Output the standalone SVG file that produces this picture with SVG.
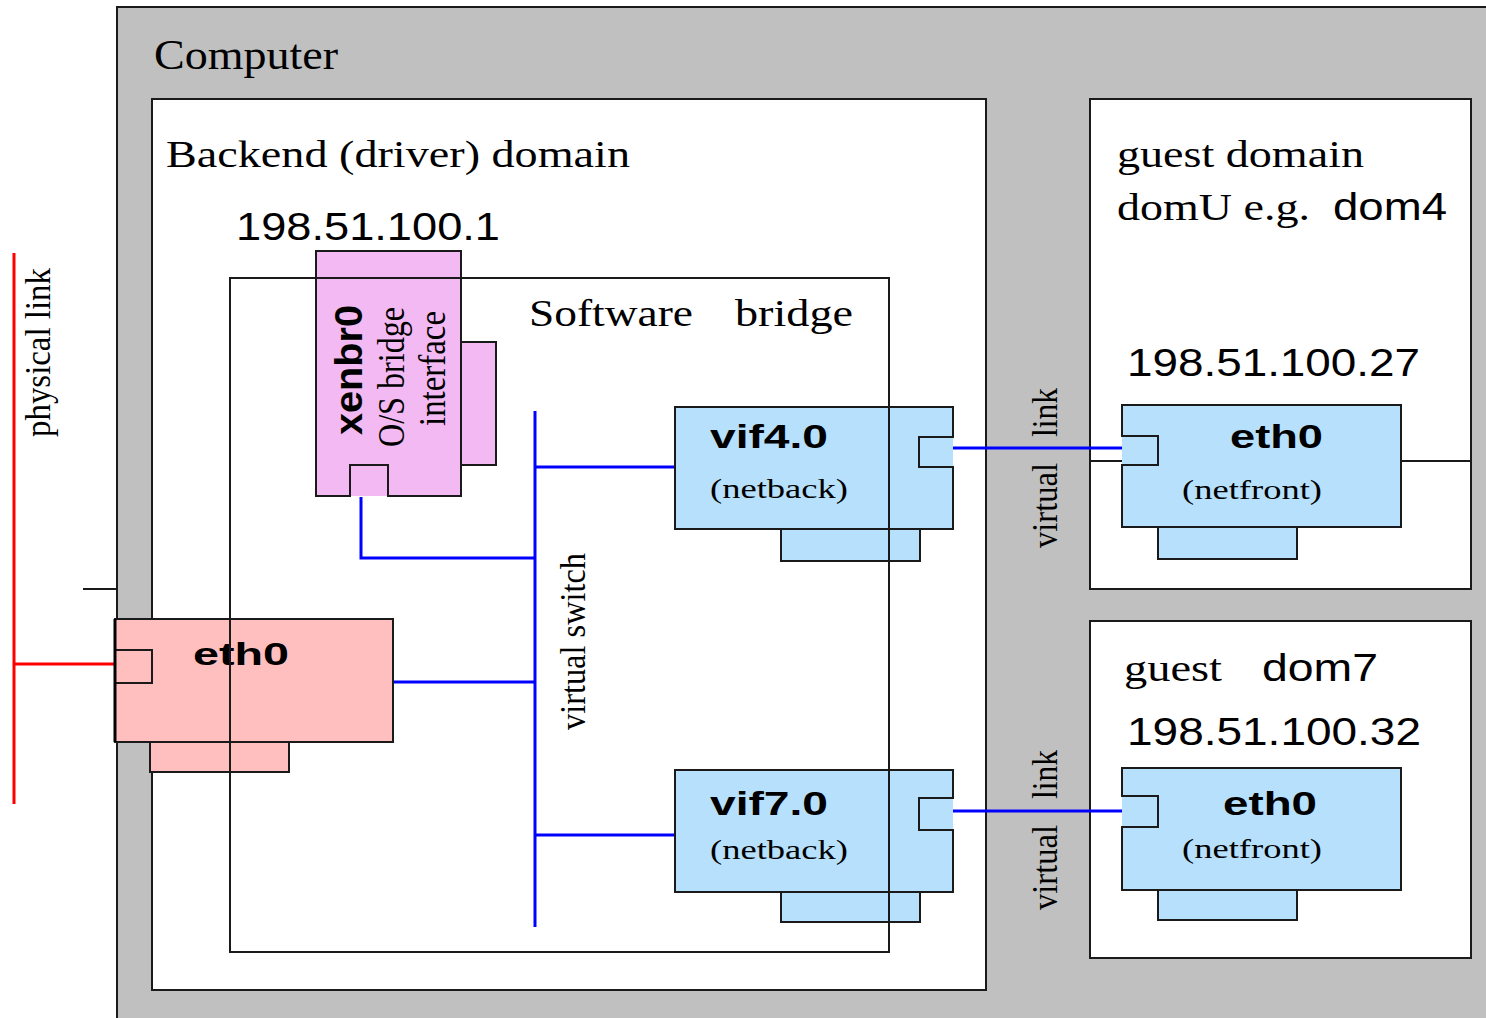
<svg xmlns="http://www.w3.org/2000/svg" width="1486" height="1018" viewBox="0 0 1486 1018">
<style>
.box{stroke:#1a1a1a;stroke-width:2}
.gray{fill:#c0c0c0}
.white{fill:#ffffff}
.pink{fill:#f2b9f2}
.rose{fill:#ffbfbf}
.blue{fill:#b6e0fc}
.nf{stroke:none}
.ol{fill:none;stroke:#1a1a1a;stroke-width:2}
.serif{font-family:"Liberation Serif","Times New Roman",serif;fill:#000}
.sans{font-family:"Liberation Sans",Arial,sans-serif;fill:#000}
.bold{font-family:"Liberation Sans",Arial,sans-serif;font-weight:bold;fill:#000}
.bl{stroke:#0000ff;stroke-width:3;fill:none}
.rd{stroke:#ff0000;stroke-width:3;fill:none}
.bk{stroke:#1a1a1a;stroke-width:2;fill:none}
</style>
<rect width="1486" height="1018" fill="#ffffff"/>
<g id="computer">
<rect class="box gray" x="117" y="7" width="1400" height="1100"/>
<text class="serif" x="154" y="69" font-size="42" textLength="184" lengthAdjust="spacingAndGlyphs">Computer</text>
</g>
<g id="backend-domain">
<rect class="box white" x="152" y="99" width="834" height="891"/>
<text class="serif" x="166" y="167" font-size="38" textLength="464" lengthAdjust="spacingAndGlyphs">Backend (driver) domain</text>
<text class="sans" x="236" y="240" font-size="38" textLength="264" lengthAdjust="spacingAndGlyphs">198.51.100.1</text>
</g>
<g id="guest-dom4">
<rect class="box white" x="1090" y="99" width="381" height="490"/>
<text class="serif" x="1117" y="167" font-size="38" textLength="247" lengthAdjust="spacingAndGlyphs">guest domain</text>
<text class="serif" x="1117" y="220" font-size="38" textLength="193" lengthAdjust="spacingAndGlyphs">domU e.g.</text>
<text class="sans" x="1333" y="220" font-size="38" textLength="114" lengthAdjust="spacingAndGlyphs">dom4</text>
<text class="sans" x="1127" y="376" font-size="38" textLength="293" lengthAdjust="spacingAndGlyphs">198.51.100.27</text>
</g>
<g id="guest-dom7">
<rect class="box white" x="1090" y="621" width="381" height="337"/>
<text class="serif" x="1124" y="681" font-size="38" textLength="98" lengthAdjust="spacingAndGlyphs">guest</text>
<text class="sans" x="1262" y="681" font-size="38" textLength="116" lengthAdjust="spacingAndGlyphs">dom7</text>
<text class="sans" x="1127" y="745" font-size="38" textLength="294" lengthAdjust="spacingAndGlyphs">198.51.100.32</text>
</g>
<g id="connectors">
<path class="rd" d="M14,253 V804 M14,664 H117"/>
<path class="bk" d="M83,589 H117 M1090,461 H1122 M1401,461 H1471"/>
<path class="bl" d="M535,411 V927 M535,467 H675 M535,835 H675 M393,682 H535 M361,497 V558 H535"/>
<path class="bl" d="M950,448 H1126 M950,811 H1126"/>
</g>
<g id="xenbr0">
<rect class="box pink" x="461" y="342" width="35" height="123"/>
<rect class="pink nf" x="316" y="251" width="145" height="245"/>
<path class="ol" d="M316,251 H461 V496 H388 V465 H350 V496 H316 Z"/>
<text class="bold" font-size="33" textLength="130" lengthAdjust="spacingAndGlyphs" transform="translate(362,435) scale(1.2,1) rotate(-90)">xenbr0</text>
<text class="serif" font-size="32" textLength="140" lengthAdjust="spacingAndGlyphs" transform="translate(404,447) scale(1.2,1) rotate(-90)">O/S bridge</text>
<text class="serif" font-size="32" textLength="115" lengthAdjust="spacingAndGlyphs" transform="translate(445,426) scale(1.2,1) rotate(-90)">interface</text>
</g>
<g id="eth0-backend">
<rect class="box rose" x="150" y="742" width="139" height="30"/>
<rect class="box rose" x="115" y="619" width="278" height="123"/>
<rect class="ol" x="115" y="650" width="37" height="33"/>
<path d="M115,619 V742" stroke="#000" stroke-width="3"/>
<text class="bold" x="193" y="665" font-size="32" textLength="96" lengthAdjust="spacingAndGlyphs">eth0</text>
</g>
<g id="vif4-0">
<rect class="box blue" x="781" y="529" width="139" height="32"/>
<rect class="blue nf" x="675" y="407" width="278" height="122"/>
<path class="ol" d="M675,407 H953 V437 H919 V467 H953 V529 H675 Z"/>
<text class="bold" x="710" y="448" font-size="34" textLength="118" lengthAdjust="spacingAndGlyphs">vif4.0</text>
<text class="serif" x="710" y="498" font-size="28" textLength="138" lengthAdjust="spacingAndGlyphs">(netback)</text>
</g>
<g id="vif7-0">
<rect class="box blue" x="781" y="892" width="139" height="30"/>
<rect class="blue nf" x="675" y="770" width="278" height="122"/>
<path class="ol" d="M675,770 H953 V798 H919 V830 H953 V892 H675 Z"/>
<text class="bold" x="710" y="815" font-size="34" textLength="118" lengthAdjust="spacingAndGlyphs">vif7.0</text>
<text class="serif" x="710" y="859" font-size="28" textLength="138" lengthAdjust="spacingAndGlyphs">(netback)</text>
</g>
<g id="eth0-dom4">
<rect class="box blue" x="1158" y="527" width="139" height="32"/>
<rect class="blue nf" x="1122" y="405" width="279" height="122"/>
<path class="ol" d="M1122,405 H1401 V527 H1122 V465 H1158 V436 H1122 Z"/>
<text class="bold" x="1230" y="448" font-size="34" textLength="93" lengthAdjust="spacingAndGlyphs">eth0</text>
<text class="serif" x="1182" y="499" font-size="28" textLength="140" lengthAdjust="spacingAndGlyphs">(netfront)</text>
</g>
<g id="eth0-dom7">
<rect class="box blue" x="1158" y="890" width="139" height="30"/>
<rect class="blue nf" x="1122" y="768" width="279" height="122"/>
<path class="ol" d="M1122,768 H1401 V890 H1122 V827 H1158 V796 H1122 Z"/>
<text class="bold" x="1223" y="815" font-size="34" textLength="94" lengthAdjust="spacingAndGlyphs">eth0</text>
<text class="serif" x="1182" y="858" font-size="28" textLength="140" lengthAdjust="spacingAndGlyphs">(netfront)</text>
</g>
<g id="software-bridge">
<rect class="ol" x="230" y="278" width="659" height="674"/>
<text class="serif" y="326" font-size="38"><tspan x="529" textLength="164" lengthAdjust="spacingAndGlyphs">Software</tspan><tspan x="735" textLength="118" lengthAdjust="spacingAndGlyphs">bridge</tspan></text>
</g>
<g id="labels">
<text class="serif" font-size="30" textLength="169" lengthAdjust="spacingAndGlyphs" transform="translate(50,437) scale(1.2,1) rotate(-90)">physical link</text>
<text class="serif" font-size="30" textLength="177" lengthAdjust="spacingAndGlyphs" transform="translate(585,730) scale(1.2,1) rotate(-90)">virtual switch</text>
<text class="serif" font-size="30" transform="translate(1057,548) scale(1.2,1) rotate(-90)"><tspan x="0" textLength="85" lengthAdjust="spacingAndGlyphs">virtual</tspan><tspan x="111" textLength="49" lengthAdjust="spacingAndGlyphs">link</tspan></text>
<text class="serif" font-size="30" transform="translate(1057,910) scale(1.2,1) rotate(-90)"><tspan x="0" textLength="85" lengthAdjust="spacingAndGlyphs">virtual</tspan><tspan x="111" textLength="49" lengthAdjust="spacingAndGlyphs">link</tspan></text>
</g>
</svg>
